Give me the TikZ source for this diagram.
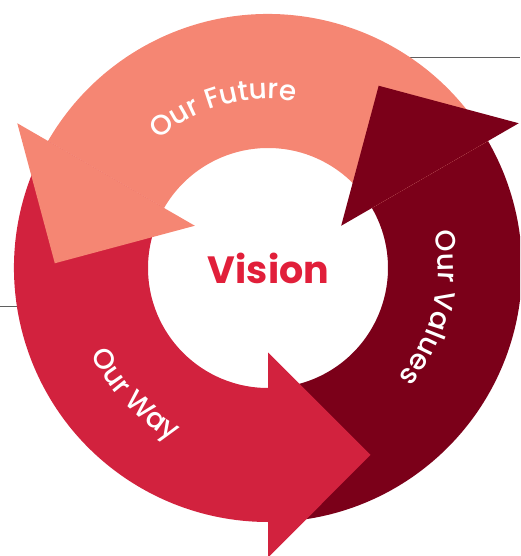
\documentclass[tikz,border=0pt]{standalone}
\usepackage{fontspec}
\setmainfont{Poppins}
\newfontfamily\labelfont{Poppins}[UprightFont=* Medium]
\usetikzlibrary{decorations.text}
\definecolor{salmon}{HTML}{F58673}
\definecolor{crimson}{HTML}{D2223E}
\definecolor{wine}{HTML}{7B0019}
\definecolor{visionred}{HTML}{E11F3A}
\definecolor{rulegrey}{HTML}{5F5F5F}
\tikzset{
  x=1pt, y=1pt,
  rule/.style={draw=rulegrey, line width=1pt},
  ringlabel/.style={decoration={text along path, text align=center,
     text={|\color{white}\labelfont\fontsize{28}{28}\selectfont|#1}}, decorate},
}
\newcommand{\ringshaft}[2]{% start angle, end angle
  (#1:254) arc[start angle=#1, end angle=#2, radius=254]
  -- (#2:120) arc[start angle=#2, end angle=#1, radius=120] -- cycle}
\newcommand{\ringhead}[1]{% base angle
  (#1:84.5) -- (#1:289.5) -- ({#1+28.73}:213.25) -- cycle}
\begin{document}
\begin{tikzpicture}
\useasboundingbox (-268,-288) rectangle (252,268);
\clip (-268,-288) rectangle (252,268);
% guide rules behind the ring
\coordinate (ruleTa) at (100,210);
\coordinate (ruleTb) at (252,210);
\coordinate (ruleLa) at (-268,-39);
\coordinate (ruleLb) at (-230,-39);
\draw[rule] (ruleTa) -- (ruleTb);
\draw[rule] (ruleLa) -- (ruleLb);
% shafts
\fill[crimson] \ringshaft{150}{270};
\fill[wine] \ringshaft{270}{390};
\fill[salmon] \ringshaft{30}{150};
% heads
\fill[crimson] \ringhead{270};
\fill[wine] \ringhead{30};
\fill[salmon] \ringhead{150};
% labels
\path[ringlabel={Our Future}] (145.5:169) arc[start angle=145.5, end angle=65.5, radius=169];
\path[ringlabel={Our Values}] (26.2:170) arc[start angle=26.2, end angle=-53.8, radius=170];
\path[ringlabel={Our Way}] (183.5:197) arc[start angle=183.5, end angle=263.5, radius=197];
\node[anchor=base, text=visionred, font=\bfseries\fontsize{38}{38}\selectfont, inner sep=0pt] (vision) at (0.5,-16) {Vision};
\end{tikzpicture}
\end{document}
